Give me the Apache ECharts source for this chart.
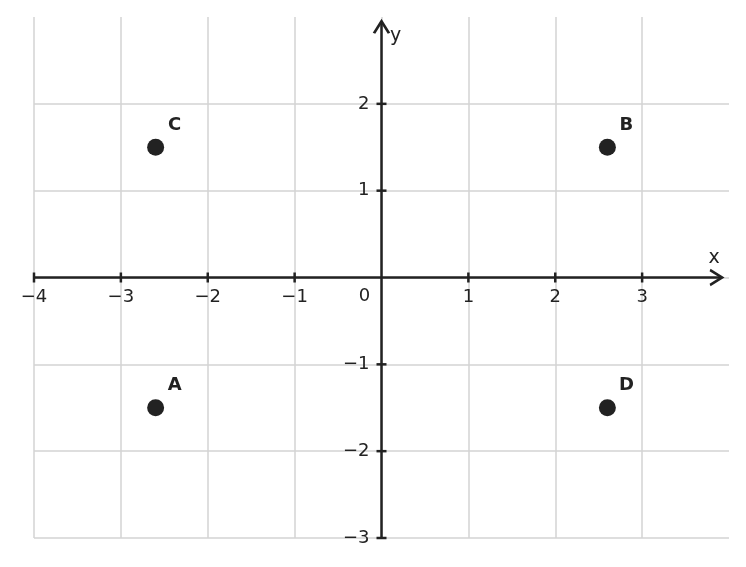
<!DOCTYPE html>
<html>
<head>
<meta charset="utf-8">
<script src="https://cdn.jsdelivr.net/npm/echarts@6/dist/echarts.min.js"></script>
<style>
html,body{margin:0;padding:0;background:#fff;}
#chart{width:746px;height:567px;}
</style>
</head>
<body>
<div id="chart"></div>
<script>
// ---- data ----
const pointNames = ['A', 'B', 'C', 'D'];
const pointX = [-2.6, 2.6, -2.6, 2.6];
const pointY = [-1.5, 1.5, 1.5, -1.5];
const xTicks = [-4, -3, -2, -1, 0, 1, 2, 3];
const yTicks = [-3, -2, -1, 1, 2];
const xRange = [-4, 4];
const yRange = [-3, 3];
const xAxisEnd = 3.92;   // arrow tip of x axis
const yAxisEnd = 2.95;   // arrow tip of y axis
const axisNames = ['x', 'y'];

const INK = '#222222';
const FONT = 'DejaVu Sans';

function fmtNum(v) {
  return v < 0 ? '\u2212' + Math.abs(v) : String(v);
}

const chart = echarts.init(document.getElementById('chart'), null, {renderer: 'canvas'});

const pointsData = pointNames.map((n, i) => ({name: n, value: [pointX[i], pointY[i]]}));
const xTickData = xTicks.map(v => (v === 0
  ? {value: [0, 0], symbolSize: 0, label: {offset: [-17, 19]}}
  : {value: [v, 0]}));
const yTickData = yTicks.map(v => ({value: [0, v]}));
const nameData = [
  {name: axisNames[0], value: [xAxisEnd, 0], label: {offset: [-8, -19]}},
  {name: axisNames[1], value: [0, yAxisEnd], label: {offset: [14, 15]}}
];

const arrowStyle = {color: 'rgba(0,0,0,0)', borderColor: INK, borderWidth: 2.5, opacity: 1};
const labelBase = {color: INK, fontFamily: FONT, fontSize: 18};

chart.setOption({
  animation: false,
  backgroundColor: '#fff',
  grid: {left: 34, right: 17, top: 17, bottom: 29, containLabel: false, outerBoundsMode: 'none'},
  xAxis: {
    type: 'value',
    min: xRange[0], max: xRange[1], interval: 1,
    axisLine: {show: false},
    axisTick: {show: false},
    axisLabel: {show: false},
    splitLine: {show: true, showMaxLine: false, lineStyle: {color: '#d3d3d3', width: 1.5}}
  },
  yAxis: {
    type: 'value',
    min: yRange[0], max: yRange[1], interval: 1,
    axisLine: {show: false},
    axisTick: {show: false},
    axisLabel: {show: false},
    splitLine: {show: true, showMaxLine: false, lineStyle: {color: '#d3d3d3', width: 1.5}}
  },
  series: [
    {
      type: 'line', name: 'xaxis', silent: true, z: 5,
      lineStyle: {color: INK, width: 2.5},
      data: [
        {value: [xRange[0], 0], symbol: 'none'},
        {value: [xAxisEnd, 0], symbol: 'path://M0,0L12,7L0,14', symbolSize: [12, 15], symbolOffset: [-6, 0], symbolKeepAspect: false, itemStyle: arrowStyle}
      ]
    },
    {
      type: 'line', name: 'yaxis', silent: true, z: 5,
      lineStyle: {color: INK, width: 2.5},
      data: [
        {value: [0, yRange[0]], symbol: 'none'},
        {value: [0, yAxisEnd], symbol: 'path://M0,12L7,0L14,12', symbolSize: [15, 12], symbolOffset: [0, 6], symbolKeepAspect: false, itemStyle: arrowStyle}
      ]
    },
    {
      type: 'scatter', name: 'xticks', silent: true, z: 6,
      symbol: 'rect', symbolSize: [2.5, 10],
      itemStyle: {color: INK, opacity: 1},
      label: Object.assign({show: true, position: 'inside', offset: [0, 19.5],
        align: 'center', verticalAlign: 'middle',
        formatter: p => fmtNum(p.value[0])}, labelBase),
      data: xTickData
    },
    {
      type: 'scatter', name: 'yticks', silent: true, z: 6,
      symbol: 'rect', symbolSize: [10, 2.5],
      itemStyle: {color: INK, opacity: 1},
      label: Object.assign({show: true, position: 'left', distance: 7,
        formatter: p => fmtNum(p.value[1])}, labelBase),
      data: yTickData
    },
    {
      type: 'scatter', name: 'axisnames', silent: true, z: 6,
      symbolSize: 0,
      itemStyle: {color: INK, opacity: 1},
      label: Object.assign({show: true, position: 'inside', align: 'center', verticalAlign: 'middle',
        formatter: p => p.name}, labelBase, {fontSize: 19}),
      data: nameData
    },
    {
      type: 'scatter', name: 'points', z: 10,
      symbol: 'circle', symbolSize: 17,
      itemStyle: {color: INK, opacity: 1},
      label: Object.assign({show: true, position: 'inside', offset: [19, -22],
        align: 'center', verticalAlign: 'middle',
        formatter: p => p.name}, labelBase, {fontWeight: 'bold'}),
      data: pointsData
    }
  ]
});
</script>
</body>
</html>
